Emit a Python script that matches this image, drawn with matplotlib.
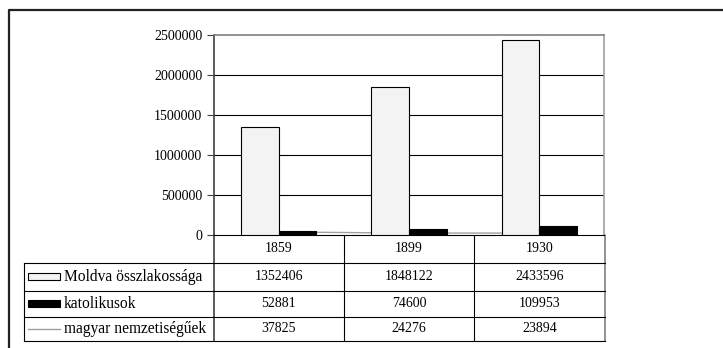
import matplotlib
matplotlib.use('Agg')
import matplotlib.pyplot as plt
import numpy as np

plt.rcParams['font.family'] = ['Liberation Serif', 'DejaVu Serif']

years = ['1859', '1899', '1930']
moldva = [1352406, 1848122, 2433596]
katolikus = [52881, 74600, 109953]
magyar = [37825, 24276, 23894]
series_names = ['Moldva összlakossága', 'katolikusok', 'magyar nemzetiségűek']
yticks = [0, 500000, 1000000, 1500000, 2000000, 2500000]

W, H = 723, 348
fig = plt.figure(figsize=(W / 100, H / 100), dpi=100)

# pixel helper axes for frame and table
bg = fig.add_axes([0, 0, 1, 1])
bg.set_xlim(0, W)
bg.set_ylim(H, 0)
bg.axis('off')

# outer frame (runs off the right/bottom edge)
bg.plot([8.5, 8.5, W + 5], [H + 5, 9.5, 9.5], color='#222222', lw=1.6, solid_capstyle='butt')

# chart area
x0, x1, ytop, y0 = 213.5, 604.5, 35, 235
ax = fig.add_axes([x0 / W, (H - y0) / H, (x1 - x0) / W, (y0 - ytop) / H])
ax.set_zorder(2)
ax.patch.set_alpha(0)

x = np.arange(len(years))
bw = 0.289
ax.plot(x, magyar, color='#a0a0a0', lw=1.0, zorder=1)
ax.bar(x - bw / 2, moldva, bw, color='#f3f3f3', edgecolor='black', lw=0.8, zorder=3)
ax.bar(x + bw / 2, katolikus, bw, color='black', edgecolor='black', lw=0.8, zorder=3)

ax.set_xlim(-0.5, 2.5)
ax.set_ylim(0, 2500000)
ax.set_yticks(yticks)
ax.set_yticklabels([str(v) for v in yticks], fontsize=10)
ax.set_xticks([])
for v in yticks[1:-1]:
    ax.axhline(v, color='black', lw=0.8, zorder=0)
ax.spines['top'].set_color('#808080')
ax.spines['right'].set_color('#a0a0a0')
ax.spines['top'].set_linewidth(1.2)
ax.spines['right'].set_linewidth(1.2)
ax.spines['left'].set_color('#404040')
ax.spines['left'].set_linewidth(1.2)
ax.spines['bottom'].set_color('black')
ax.spines['bottom'].set_linewidth(0.8)
ax.tick_params(axis='y', length=5, width=0.8, pad=3, color='#404040')

# data table under the chart
colw = (x1 - x0) / len(years)
cols = [x0 + colw * i for i in range(len(years) + 1)]
tleft = 23.5
rows = [235, 263, 290.5, 317, 341]
lc = 'black'
bg.plot([x1, x1], [rows[0], rows[-1]], color='#808080', lw=1.2)
bg.plot([x0, x0], [rows[0], rows[-1]], color='#404040', lw=1.2)
for c in cols[1:-1]:
    bg.plot([c, c], [rows[0], rows[-1]], color=lc, lw=0.8)
bg.plot([tleft, tleft], [rows[1], rows[-1]], color=lc, lw=0.8)
for r in rows[1:]:
    bg.plot([tleft, x1], [r, r], color=lc, lw=0.8)

fs = 10
for i, yr in enumerate(years):
    bg.text((cols[i] + cols[i + 1]) / 2, (rows[0] + rows[1]) / 2, yr,
            ha='center', va='center', fontsize=fs)

table_vals = [moldva, katolikus, magyar]
for j, vals in enumerate(table_vals):
    yc = (rows[j + 1] + rows[j + 2]) / 2
    for i, v in enumerate(vals):
        bg.text((cols[i] + cols[i + 1]) / 2, yc, str(v), ha='center', va='center', fontsize=fs)
    bg.text(64, yc, series_names[j], ha='left', va='center', fontsize=11.2)

# legend keys in the row headers
r1 = (rows[1] + rows[2]) / 2
r2 = (rows[2] + rows[3]) / 2
r3 = (rows[3] + rows[4]) / 2
bg.add_patch(plt.Rectangle((27.5, r1 - 3.5), 32, 7, facecolor='#f3f3f3', edgecolor='black', lw=0.8))
bg.add_patch(plt.Rectangle((27.5, r2 - 3.5), 32, 7, facecolor='black', edgecolor='black', lw=0.8))
bg.plot([27.5, 59.5], [r3, r3], color='#a0a0a0', lw=1.0)

fig.savefig('out.png', dpi=100)
